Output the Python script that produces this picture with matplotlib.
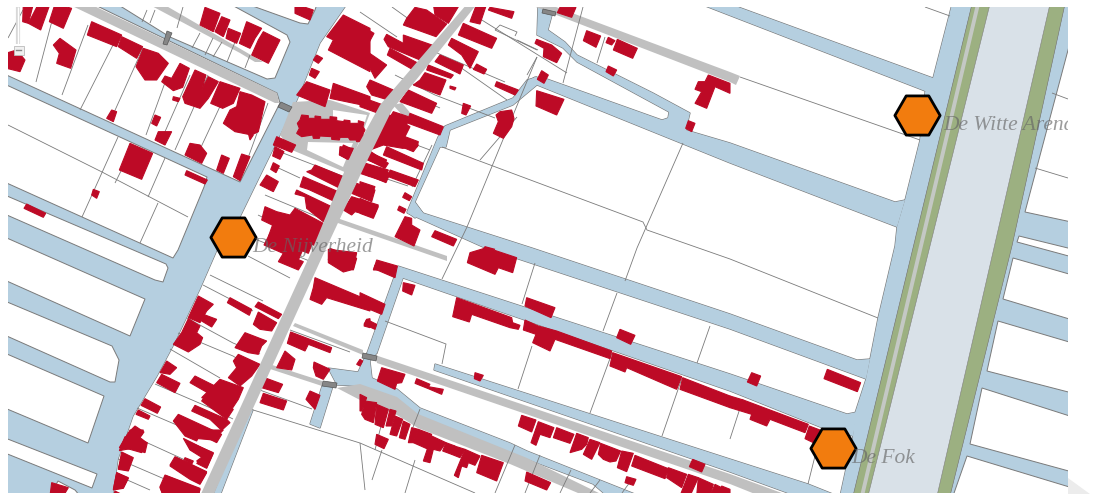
import matplotlib
matplotlib.use("Agg")
import matplotlib.pyplot as plt
from matplotlib.patches import Polygon

W, H = 1102, 496
MAP_X0, MAP_X1, MAP_Y0, MAP_Y1 = 8, 1068, 7, 493
BLUE, RED, ROAD, EDGE = '#b5cfe0', '#bd0a26', '#c0c0c0', '#7a7a7a'
GREEN, CENTRE, ORANGE = '#9cb081', '#d9e1e8', '#f27c0e'

# ---------- water (pixel positions of the map image) ----------
water = [
    [(8,7),(347,7),(320,43),(297,100),(240,217),(217,250),(200,289),(173,346),(157,376),(133,416),(118,459),(113,493),(8,493)],
    [(952,7),(972,7),(853,493),(840,493),(853,436),(855,413),(866,379),(870,359),(878,318),(895,246),(897,227),(905,200),(920,140),(925,92),(933,78)],
    [(700,7),(730,7),(933,78),(945,80),(935,95),(925,91)],
    [(538,7),(555,7),(548,30),(565,42),(577,55),(653,93),(690,113),(686,130),(730,143),(895,202),(905,200),(897,227),(730,163),(537,85),(530,80),(535,77),(547,79),(662,120),(668,118),(669,112),(577,62),(563,48),(537,35)],
    [(407,212),(438,137),(445,126),(513,98),(527,80),(537,77),(537,85),(513,105),(450,130),(446,147),(440,147),(415,202),(423,213),(415,218)],
    [(407,213),(415,203),(423,213),(532,248),(730,314),(857,360),(870,359),(866,379),(730,329),(485,248)],
    [(398,266),(730,374),(847,414),(857,412),(853,436),(820,427),(730,391),(403,278),(377,353),(367,353)],
    [(367,353),(377,353),(370,361),(372,378),(397,389),(420,408),(510,443),(527,451),(640,493),(607,493),(593,484),(527,459),(417,416),(397,398),(360,386),(337,385),(328,368),(358,372)],
    [(322,386),(333,386),(320,428),(310,424)],
    [(435,364),(730,459),(808,484),(838,493),(796,493),(730,472),(434,370)],
    [(248,408),(253,410),(220,493),(213,493)],
    [(1065,7),(1068,7),(1068,493),(950,493),(1012,246)],
]

# ---------- land blocks laid over the water ----------
land = [
    [(8,7),(93,7),(277,93),(280,103),(240,182),(8,72)],
    [(117,7),(170,37),(267,79),(275,78),(290,42),(287,35),(230,7)],
    [(247,7),(300,23),(308,24),(315,10),(317,7)],
    [(8,82),(207,177),(204,187),(178,250),(173,258),(8,180)],
    [(8,193),(166,264),(168,268),(163,282),(155,280),(8,212)],
    [(8,235),(145,299),(130,336),(8,278)],
    [(8,299),(112,346),(119,360),(115,382),(110,382),(8,333)],
    [(8,351),(104,396),(88,443),(8,406)],
    [(8,436),(97,474),(92,488),(8,451)],
    [(50,493),(58,481),(75,490),(80,493)],
    [(1068,20),(1025,212),(1068,223)],
    [(1019,236),(1068,250),(1068,258),(1017,242)],
    [(1013,258),(1068,276),(1068,321),(1003,299)],
    [(998,321),(1068,344),(1068,394),(987,371)],
    [(982,388),(1068,418),(1068,473),(970,444)],
    [(967,456),(1068,489),(1068,493),(953,493)],
]

# ---------- embankment ----------
centre_strip = [(990,7),(1050,7),(937,493),(868,493)]
green_west = [(972,7),(990,7),(868,493),(853,493)]
green_east = [(1050,7),(1065,7),(1012,246),(950,493),(937,493)]
towpath = [(976,7),(980,7),(864,493),(860,493)]

# ---------- roads ----------
roads = [
    [(90,7),(277,93),(279,103),(275,103),(68,7)],
    [(148,7),(163,7),(263,62),(255,62),(240,53)],
    [(293,102),(330,100),(370,113),(347,173),(292,150),(280,135)],
    [(393,105),(402,103),(412,115),(404,117)],
    [(528,7),(548,7),(730,72),(740,76),(736,85),(730,82)],
    [(360,384),(397,397),(418,414),(527,458),(605,493),(585,493),(510,464),(418,428),(397,415),(360,400),(337,388)],
    [(375,355),(730,474),(790,493),(760,493),(730,484),(377,363)],
    [(293,326),(295,323),(363,350),(363,355)],
    [(267,368),(269,364),(322,381),(322,386)],
    [(335,222),(337,218),(447,256),(447,261)],
]
main_road = [(467,7),(477,7),(392,110),(365,165),(323,255),(213,493),(200,493),(310,255),(347,165),(380,105)]
road_holes = [
    [(333,110),(367,115),(363,128),(333,122)],
    [(308,142),(353,143),(343,167),(307,150)],
]

# ---------- parcel boundaries ----------
parcels = [
    [(23,10),(8,38)],[(53,17),(36,82)],[(88,25),(62,95)],[(113,45),(80,110)],[(143,48),(112,117)],
    [(167,77),(146,135)],[(190,75),(160,143)],[(208,75),(175,150)],[(230,85),(195,160)],[(268,103),(240,180)],
    [(147,10),(142,22)],[(155,10),(150,23)],[(183,7),(177,28)],[(200,33),(192,48)],[(213,38),(205,55)],
    [(222,42),(213,57)],[(235,42),(227,62)],[(250,55),(245,68)],
    [(8,125),(102,172),(188,217)],[(118,137),(82,217)],[(165,158),(148,197)],[(133,147),(115,183)],[(158,203),(140,243)],
    [(248,256),(290,278)],[(210,275),(263,301)],[(203,285),(253,311)],[(187,318),(233,343),(260,354)],
    [(178,333),(233,356),(252,368)],[(170,349),(220,378)],[(155,384),(213,409),(233,419)],
    [(137,408),(200,435)],[(128,434),(185,460)],[(118,459),(183,487)],[(116,475),(150,490)],
    [(283,153),(345,177)],[(272,165),(300,178)],[(265,195),(330,222)],[(258,215),(320,245)],[(245,235),(312,262)],
    [(250,409),(360,443),(475,493)],[(257,389),(312,409)],[(290,330),(350,352)],
    [(442,147),(643,222),(647,230),(730,259),(878,318)],
    [(683,143),(637,248),(625,281)],[(617,293),(603,331)],[(710,326),(697,363)],[(535,263),(522,304)],
    [(537,57),(467,227),(442,279)],[(583,7),(563,83)],[(605,37),(597,63)],[(517,117),(480,160)],
    [(532,346),(518,389)],[(612,353),(590,413)],[(682,378),(662,436)],[(385,321),(446,344),(442,364)],
    [(743,399),(730,439)],[(815,456),(808,484)],[(925,7),(950,16)],[(740,77),(920,140)],
    [(1052,93),(1068,99)],[(1035,168),(1068,178)],
    [(360,12),(397,37)],[(392,7),(417,25)],[(477,17),(567,73)],[(450,60),(507,100)],[(430,50),(505,82)],
    [(395,75),(435,95),(495,118)],[(400,90),(440,108)],[(537,57),(527,75)],[(495,30),(537,50)],
    [(495,30),(500,25),(517,32),(515,36)],[(517,40),(538,50)],
    [(408,186),(360,170)],[(390,135),(430,150)],[(432,145),(412,187)],
    [(365,490),(360,443)],[(382,450),(372,480)],[(415,460),(405,493)],[(495,493),(515,445)],
    [(540,455),(525,493)],[(571,470),(560,493)],[(600,480),(590,493)],[(622,493),(630,482)],
    [(420,409),(410,435)],[(385,410),(375,450)],
]

bld_a = [  # panel at (0, 0)
    [(70,20),(100,20),(85,70),(68,65)],[(115,20),(150,20),(122,90),(85,70)],[(165,20),(215,25),(190,85),(148,65)],
    [(24,165),(50,150),(75,180),(60,215),(24,200)],[(180,115),(228,150),(212,205),(170,190),(178,160),(160,135)],
    [(275,65),(365,105),(350,140),(262,105)],[(365,110),(428,140),(410,175),(355,140)],
    [(430,145),(475,160),(505,190),(470,240),(435,240),(408,200)],
    [(540,190),(568,205),(548,262),(520,272),(485,245),(495,228),(515,235)],[(520,290),(540,295),(535,305),(518,300)],
    [(585,210),(618,225),(605,270),(625,230),(655,245),(625,295),(600,325),(555,310),(548,290)],
    [(660,245),(720,265),(700,310),(668,325),(632,310)],
    [(755,285),(795,305),(775,395),(755,405),(705,395),(670,370),(690,330),(710,320),(720,275)],
    [(745,400),(760,405),(750,420)],[(335,330),(350,335),(340,365),(320,355)],[(465,345),(482,352),(470,378),(455,370)],
    [(475,395),(515,395),(495,435),(465,420)],[(390,430),(458,460),(425,538),(358,510)],
    [(570,430),(600,435),(620,460),(605,490),(555,465)],[(665,465),(688,475),(670,520),(650,510)],
    [(725,462),(750,470),(720,542),(700,530)],[(560,512),(622,540),(615,552),(555,525)],
    [(280,568),(298,575),(290,595),(275,585)],[(80,612),(137,640),(130,652),(72,625)],
    [(615,22),(660,40),(640,95),(600,75)],[(665,50),(690,60),(670,110),(645,95)],[(685,85),(722,100),(710,130),(678,115)],
    [(740,65),(785,85),(765,115),(750,145),(718,130)],[(790,95),(840,120),(805,190),(755,165),(775,120)],
    [(885,20),(940,30),(930,60),(885,40)],[(1030,45),(1110,85),(1110,215),(985,150),(1000,120),(980,110)],
    [(950,165),(968,175),(955,190),(940,180)],[(935,205),(958,215),(945,235),(928,225)],
    [(920,245),(990,270),(975,320),(890,285)],[(1000,250),(1110,290),(1110,320),(990,295)],
    [(905,345),(925,347),(925,355),(945,355),(945,348),(962,350),(962,358),(990,358),(990,350),(1010,352),(1010,362),
     (1032,365),(1032,360),(1050,362),(1050,370),(1075,370),(1075,362),(1092,367),(1085,395),(1092,410),(1088,425),
     (1070,425),(1068,420),(1050,420),(1045,412),(1020,412),(1018,420),(995,418),(995,410),(960,408),(958,415),
     (940,415),(938,405),(905,410),(890,400),(898,385),(892,370),(900,360)],
    [(1020,440),(1060,445),(1045,478),(1018,465)],[(1085,490),(1110,495),(1110,530),(1080,515)],
]
bld_b = [  # panel at (0, 246)
    [(595,150),(640,175),(620,195),(600,230),(565,215)],[(610,205),(650,220),(635,243),(605,225)],
    [(565,218),(600,240),(590,260),(608,275),(600,295),(565,318),(520,295),(545,260)],
    [(500,345),(530,365),(510,385),(480,380)],[(485,385),(540,412),(525,440),(470,410)],
    [(435,458),(482,483),(472,502),(423,478)],[(415,492),(450,510),(445,520),(408,505)],
    [(405,540),(432,558),(420,575),(440,590),(425,620),(390,610),(358,605),(385,560)],
    [(365,618),(400,635),(385,675),(355,670)],[(350,680),(385,695),(370,725),(340,730)],[(345,735),(375,745),(340,745)],
    [(155,710),(205,725),(190,745),(150,745)],
    [(690,155),(755,190),(748,208),(682,170)],[(775,168),(845,205),(835,218),(765,182)],
    [(775,198),(830,230),(815,255),(780,250),(760,235)],[(735,260),(800,285),(785,300),(775,325),(745,320),(705,305)],
    [(715,325),(780,355),(755,390),(720,420),(685,395),(710,365),(700,345)],
    [(660,400),(730,425),(715,460),(695,490),(650,470),(605,455)],[(585,390),(655,425),(640,450),(570,410)],
    [(615,450),(700,490),(680,520),(605,465)],[(585,478),(680,520),(690,530),(665,553),(630,520),(575,495)],
    [(535,505),(665,565),(650,590),(600,565),(590,585),(555,570),(520,525)],
    [(560,585),(640,620),(620,665),(590,645),(610,630),(570,610)],[(530,635),(620,680),(600,715),(570,700),(510,660)],
    [(500,690),(600,730),(595,745),(490,745),(480,725)],[(555,635),(580,645),(575,655),(552,642)],
    [(985,10),(1070,20),(1060,70),(1030,78),(985,50)],
    [(945,95),(1110,165),(1110,195),(980,155),(965,175),(930,160),(940,125)],
    [(872,258),(995,305),(990,320),(925,295),(915,315),(862,292)],[(855,315),(885,340),(875,372),(830,365)],
    [(942,348),(990,370),(970,400),(948,390),(940,365)],[(780,390),(848,415),(835,440),(768,420)],
    [(790,442),(860,465),(850,492),(780,470)],[(930,435),(960,448),(945,490),(918,460)],
    [(1100,220),(1110,218),(1110,245),(1092,240)],[(1080,340),(1088,345),(1080,360),(1070,355)],
]
bld_c = [  # panel at (360, 0)
    [(220,20),(300,20),(265,70),(225,45)],[(165,22),(200,30),(260,72),(228,110),(130,75),(140,55)],
    [(350,20),(380,20),(360,72),(330,65)],[(390,22),(462,35),(455,55),(385,30)],[(0,75),(42,100),(15,150),(0,140)],
    [(80,103),(195,165),(180,180),(85,140),(72,118)],[(130,105),(230,140),(205,175),(130,130)],
    [(0,140),(80,195),(45,235),(30,205),(0,195)],[(90,145),(175,190),(160,210),(82,165)],
    [(310,70),(410,115),(395,145),(295,105)],[(275,115),(355,155),(330,205),(305,165),(265,135)],
    [(240,165),(310,195),(300,222),(225,185)],[(350,192),(380,208),(372,222),(340,208)],
    [(205,195),(280,225),(272,235),(200,210)],[(195,218),(258,240),(240,285),(160,255),(180,240)],
    [(30,240),(100,270),(85,300),(35,285),(20,260)],[(145,270),(230,310),(215,340),(120,305)],
    [(0,290),(70,315),(50,338),(0,320)],[(0,365),(15,390),(0,420)],[(100,335),(145,350),(135,405),(70,385)],
    [(150,340),(250,380),(240,405),(140,368)],
    [(70,385),(135,410),(175,425),(172,440),(128,445),(70,435),(30,450),(45,410)],[(25,450),(85,490),(75,505),(15,475)],
    [(80,440),(190,490),(185,510),(70,465)],[(0,485),(85,510),(75,545),(0,520)],[(90,510),(175,540),(165,560),(85,530)],
    [(0,545),(45,560),(30,597),(0,585)],[(0,595),(55,620),(40,655),(0,640)],[(135,578),(155,590),(148,602),(128,592)],
    [(118,618),(138,628),(132,640),(113,630)],[(135,650),(155,655),(155,675),(180,690),(162,738),(105,710)],
    [(225,692),(290,718),(280,738),(215,710)],[(375,740),(405,748),(370,748)],[(410,245),(475,270),(465,285),(405,258)],
    [(270,258),(288,263),(284,270),(270,265)],[(310,310),(332,318),(318,345),(305,340)],
    [(420,335),(455,330),(462,355),(455,380),(430,415),(400,400),(415,365),(408,345)],
    [(530,118),(575,135),(605,160),(590,188),(550,170),(552,145),(525,130)],[(545,212),(565,225),(552,250),(532,238)],
    [(530,272),(612,298),(590,345),(528,318)],[(680,92),(722,108),(708,142),(670,122)],[(745,112),(765,122),(755,135),(738,128)],
    [(772,118),(832,145),(818,175),(760,150)],[(745,198),(770,210),(760,228),(738,215)],[(600,22),(648,22),(635,52),(592,38)],
    [(1045,225),(1110,250),(1110,280),(1065,260),(1040,325),(1005,310),(1025,275),(1005,268),(1015,245),(1035,245)],
    [(985,362),(1005,370),(995,395),(977,385)],
]
bld_d = [  # panel at (360, 246)
    [(0,445),(20,455),(5,495),(0,495)],[(15,465),(50,470),(40,530),(15,520),(5,505)],[(50,475),(85,490),(70,545),(45,535)],
    [(90,490),(108,495),(95,540),(78,540)],[(105,510),(128,520),(110,570),(90,565)],[(130,525),(150,535),(135,580),(118,575)],
    [(155,545),(175,550),(160,590),(145,590)],[(175,550),(215,565),(205,610),(160,590)],
    [(215,570),(258,590),(240,615),(220,610),(210,650),(190,645)],[(258,590),(285,600),(275,625),(248,615)],
    [(283,600),(315,610),(300,635),(275,625)],[(315,610),(360,630),(345,658),(325,650),(320,665),(305,660),(295,695),(283,688)],
    [(365,628),(430,650),(410,705),(350,680)],[(50,565),(85,580),(72,608),(45,595)],[(500,678),(572,710),(560,732),(495,705)],
    [(65,365),(135,385),(125,410),(110,412),(105,430),(52,405)],
    [(170,398),(210,415),(205,422),(250,430),(245,445),(205,428),(165,412)],[(485,508),(528,522),(515,558),(475,540)],
    [(535,527),(582,545),(570,575),(540,565),(528,598),(513,590)],[(590,545),(642,565),(630,592),(580,575)],
    [(650,562),(685,575),(680,595),(665,610),(630,620)],[(690,580),(720,590),(695,640),(670,625)],
    [(722,592),(782,615),(768,645),(750,648),(730,640),(715,625)],[(785,615),(820,622),(800,677),(772,665)],
    [(825,628),(925,668),(915,698),(815,660)],[(800,692),(828,700),(820,718),(795,710)],[(925,665),(980,685),(965,725),(920,695)],
    [(985,685),(1015,695),(990,745),(960,745)],[(1015,695),(1060,715),(1050,745),(1010,745)],
    [(1065,715),(1085,725),(1075,745),(1050,745)],[(1085,720),(1110,730),(1110,745),(1075,745)],
    [(998,640),(1035,655),(1025,678),(988,662)],
    [(290,155),(455,215),(458,230),(480,238),(475,250),(450,245),(335,205),(328,228),(278,212)],
    [(500,155),(585,185),(573,215),(495,180)],
    [(495,222),(530,238),(535,240),(590,255),(755,315),(750,338),(585,280),(570,315),(518,290),(528,265),(490,252)],
    [(758,320),(965,392),(950,430),(915,415),(800,365),(795,378),(750,360)],[(968,395),(1110,450),(1110,485),(960,430)],
    [(780,250),(825,268),(812,295),(770,275)],[(130,110),(165,118),(155,147),(128,135)],[(50,42),(112,60),(105,95),(42,68)],
    [(345,380),(370,388),(360,405),(343,398)],[(330,20),(380,5),(470,35),(458,80),(415,65),(405,85),(322,50)],
    [(0,140),(75,175),(65,205),(0,178)],[(20,220),(50,235),(45,250),(12,235)],
]
bld_e = [  # panel at (730, 246)
    [(0,450),(40,462),(235,535),(225,560),(120,520),(110,540),(60,520),(65,505),(0,485)],
    [(65,380),(92,390),(80,420),(52,408)],[(292,370),(392,410),(382,437),(282,398)],[(238,540),(270,552),(250,590),(225,578)],
]
bld_f = [  # panel at (240, 90): the dense quarter west of the main road
    [(110,140),(167,165),(155,187),(100,165)],[(105,170),(132,185),(120,208),(98,198)],
    [(100,218),(118,228),(108,248),(92,238)],[(80,255),(115,275),(100,305),(60,285)],
    [(225,225),(315,262),(300,295),(200,245),(215,240)],[(190,260),(295,305),(285,335),(205,298),(180,290)],
    [(170,300),(275,350),(250,395),(200,355),(195,320),(165,312)],
    [(75,350),(110,365),(150,375),(165,355),(250,400),(230,470),(190,450),(65,390)],
    [(105,385),(225,440),(205,490),(85,440)],[(90,430),(190,475),(175,510),(72,465)],
    [(130,490),(190,515),(175,540),(115,515)],
    [(350,280),(405,300),(395,335),(335,310)],[(335,320),(415,345),(400,380),(345,365),(335,375),(310,360)],
    [(270,475),(350,505),(340,540),(265,510)],[(405,525),(470,540),(465,540),(400,540)],
    [(310,165),(338,178),(322,208),(300,195)],
    [(385,185),(440,210),(428,228),(378,208)],[(365,218),(450,250),(438,278),(360,245)],
    [(440,70),(510,110),(490,150),(420,120)],[(425,120),(535,165),(520,185),(410,140)],
]
bld_g = [  # panel at (0, 430): south end of the quarter
    [(390,0),(430,0),(425,15),(385,15)],[(375,20),(442,38),(435,68),(395,55),(358,62)],
    [(370,70),(395,85),(385,120),(355,115)],[(350,128),(385,145),(370,175),(340,180)],
    [(560,0),(670,0),(640,30),(585,25)],[(550,25),(640,70),(620,115),(590,100),(610,85),(570,60)],
    [(525,80),(620,125),(600,160),(565,140),(510,105)],[(495,135),(600,175),(595,190),(490,190),(480,170)],
]
building_panels = [((0,0),bld_a),((0,246),bld_b),((360,0),bld_c),((360,246),bld_d),((730,246),bld_e),
                   ((240,90),bld_f),((0,430),bld_g)]

bridges = [
    [(167,31),(172,33),(167,45),(163,44)],
    [(281,102),(292,107),(289,112),(278,107)],
    [(543,9),(556,12),(555,16),(542,13)],
    [(363,353),(377,356),(376,361),(362,358)],
    [(323,381),(337,383),(336,388),(322,386)],
]

# ---------- places ----------
place_x = [917, 233, 833]
place_y = [115, 237, 448]
label_text = ['De Witte Arend', 'De Nijverheid', 'De Fok']
label_x = [943, 252, 851]
label_y = [130, 252, 463]

fig = plt.figure(figsize=(W/100, H/100), dpi=100, facecolor='white')
ax = fig.add_axes([MAP_X0/W, 1-MAP_Y1/H, (MAP_X1-MAP_X0)/W, (MAP_Y1-MAP_Y0)/H])
ax.set_xlim(MAP_X0, MAP_X1)
ax.set_ylim(MAP_Y1, MAP_Y0)
ax.axis('off')

def past_frame(pts):
    """Push points lying on the frame outwards, so outlines do not trace the frame."""
    out = []
    for x, y in pts:
        x = MAP_X0 - 8 if x <= MAP_X0 else (MAP_X1 + 8 if x >= MAP_X1 else x)
        y = MAP_Y0 - 3 if y <= MAP_Y0 else (MAP_Y1 + 3 if y >= MAP_Y1 else y)
        out.append((x, y))
    return out

def poly(pts, fc, ec='none', lw=0, z=1):
    ax.add_patch(Polygon(past_frame(pts), closed=True, facecolor=fc, edgecolor=ec, linewidth=lw, zorder=z))

for p in water:
    poly(p, BLUE, EDGE, 0.9, 1)
for p in water:
    poly(p, BLUE, z=2)
for p in land:
    poly(p, 'white', EDGE, 0.7, 3)
poly(centre_strip, CENTRE, z=4)
poly(green_west, GREEN, EDGE, 0.4, 4)
poly(green_east, GREEN, EDGE, 0.4, 4)
poly(towpath, '#c4c8c4', z=5)
for p in roads:
    poly(p, ROAD, z=6)
for p in road_holes:
    poly(p, 'white', z=7)
for line in parcels:
    xs, ys = zip(*line)
    ax.plot(xs, ys, color=EDGE, lw=0.6, zorder=8, solid_capstyle='butt')
for (ox, oy), group in building_panels:
    for p in group:
        poly([(ox + x/3, oy + y/3) for x, y in p], RED, RED, 0.8, 9)
poly(main_road, ROAD, z=9.5)
for p in bridges:
    poly(p, '#868686', '#555555', 0.5, 10)

# zoom control
ax.plot([18, 18], [7, 44], color='#d8d8d8', lw=3, zorder=11, solid_capstyle='butt')
ax.plot([18, 18], [7, 44], color='white', lw=1, zorder=11, solid_capstyle='butt')
poly([(14,46),(24,46),(24,55),(14,55)], '#f0f0f0', '#bbbbbb', 0.6, 11)
ax.plot([16, 21], [50.5, 50.5], color='#888888', lw=1, zorder=12)

ax.scatter(place_x, place_y, marker='H', s=1060, color=ORANGE, edgecolors='black', linewidths=2.0, zorder=13)
for t, x, y in zip(label_text, label_x, label_y):
    ax.text(x, y, t, family='Liberation Serif', style='italic', fontsize=15.5, color='#666666', alpha=0.65,
            ha='left', va='baseline', zorder=14, clip_on=True)

# edge of the next map tile, bottom right
fig.patches.append(Polygon([(1068/W, 1-478/H), (1090/W, 1-494/H), (1068/W, 1-494/H)], closed=True,
                           transform=fig.transFigure, facecolor='#ececec', edgecolor='none'))

fig.savefig('out.png', dpi=100)
